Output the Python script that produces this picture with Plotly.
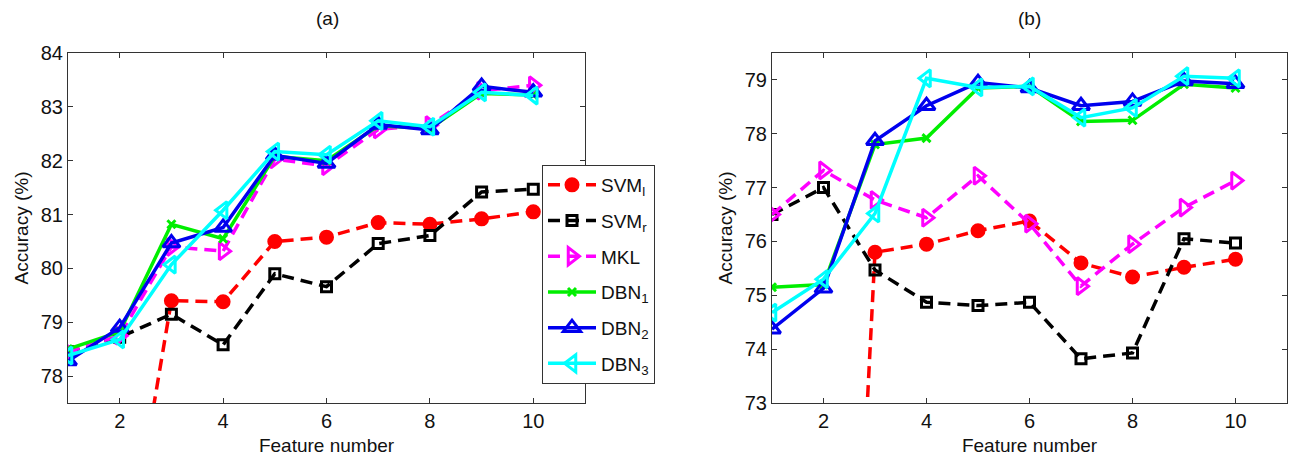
import plotly.graph_objects as go

features = [1, 2, 3, 4, 5, 6, 7, 8, 9, 10]

# Panel (a)
a_svml = [72.5, 73.7, 79.40, 79.38, 80.50, 80.58, 80.85, 80.82, 80.92, 81.05]
a_svmr = [78.45, 78.72, 79.15, 78.58, 79.90, 79.66, 80.46, 80.61, 81.42, 81.47]
a_mkl = [78.45, 78.75, 80.40, 80.32, 82.03, 81.90, 82.58, 82.66, 83.30, 83.40]
a_dbn1 = [78.50, 78.82, 80.82, 80.55, 82.08, 82.00, 82.65, 82.60, 83.25, 83.22]
a_dbn2 = [78.28, 78.90, 80.47, 80.76, 82.10, 81.95, 82.67, 82.57, 83.38, 83.27]
a_dbn3 = [78.38, 78.68, 80.07, 81.08, 82.17, 82.11, 82.74, 82.63, 83.27, 83.21]

# Panel (b)
b_svml = [55.0, 57.0, 75.80, 75.95, 76.20, 76.38, 75.60, 75.34, 75.52, 75.67]
b_svmr = [76.50, 77.00, 75.47, 74.87, 74.81, 74.87, 73.82, 73.93, 76.05, 75.97]
b_mkl = [76.50, 77.32, 76.77, 76.44, 77.22, 76.33, 75.17, 75.95, 76.63, 77.13]
b_dbn1 = [75.15, 75.20, 77.80, 77.92, 78.85, 78.88, 78.23, 78.25, 78.92, 78.85]
b_dbn2 = [74.37, 75.13, 77.87, 78.52, 78.95, 78.85, 78.52, 78.60, 78.98, 78.93]
b_dbn3 = [74.68, 75.30, 76.52, 79.03, 78.86, 78.88, 78.30, 78.48, 79.07, 79.03]

names = ["SVM<sub>l</sub>", "SVM<sub>r</sub>", "MKL",
         "DBN<sub>1</sub>", "DBN<sub>2</sub>", "DBN<sub>3</sub>"]
colors = ["#FF0000", "#000000", "#FF00FF", "#00EE00", "#0000EE", "#00FFFF"]
symbols = ["circle", "square-open", "triangle-right-open", "x-thin-open",
           "triangle-up-open", "triangle-left-open"]
msizes = [12, 10, 15, 8, 15, 15]
dashes = ["12px,7px", "12px,7px", "12px,7px", "solid", "solid", "solid"]

series_a = [a_svml, a_svmr, a_mkl, a_dbn1, a_dbn2, a_dbn3]
series_b = [b_svml, b_svmr, b_mkl, b_dbn1, b_dbn2, b_dbn3]

FONT = "Liberation Sans, Arial"

fig = go.Figure()

for panel, series in (("a", series_a), ("b", series_b)):
    xa = "x" if panel == "a" else "x2"
    ya = "y" if panel == "a" else "y2"
    for i, vals in enumerate(series):
        fig.add_trace(go.Scatter(
            x=features, y=vals, mode="lines+markers",
            name=names[i], showlegend=(panel == "a"),
            legendgroup="g%d" % i,
            xaxis=xa, yaxis=ya,
            line=dict(color=colors[i], width=3.5, dash=dashes[i]),
            marker=dict(symbol=symbols[i], size=msizes[i], color=colors[i],
                        line=dict(color=colors[i], width=3)),
            cliponaxis=True,
        ))

W, H = 1289, 456
axis_common = dict(
    showline=True, linecolor="#333333", linewidth=1, mirror="ticks",
    ticks="inside", ticklen=5, tickcolor="#333333", showgrid=False,
    zeroline=False, automargin=False,
    tickfont=dict(family=FONT, size=20, color="#111"),
)
title_font = dict(family=FONT, size=19, color="#111")

fig.update_layout(
    width=W, height=H,
    margin=dict(l=0, r=0, t=0, b=0, autoexpand=False),
    paper_bgcolor="white", plot_bgcolor="white",
    font=dict(family=FONT, color="#111"),
    xaxis=dict(domain=[68 / W, 585 / W], range=[1, 11], tickvals=[2, 4, 6, 8, 10],
               anchor="y",
               title=dict(text="Feature number", font=title_font, standoff=11),
               **axis_common),
    yaxis=dict(domain=[1 - 403 / H, 1 - 53 / H], range=[77.5, 84], dtick=1,
               anchor="x",
               title=dict(text="Accuracy (%)", font=title_font, standoff=7),
               **axis_common),
    xaxis2=dict(domain=[772 / W, 1287 / W], range=[1, 11], tickvals=[2, 4, 6, 8, 10],
                anchor="y2",
                title=dict(text="Feature number", font=title_font, standoff=11),
                **axis_common),
    yaxis2=dict(domain=[1 - 403 / H, 1 - 53 / H], range=[73, 79.5], dtick=1,
                anchor="x2",
                title=dict(text="Accuracy (%)", font=title_font, standoff=7),
                **axis_common),
    legend=dict(x=542 / W, y=1 - 165 / H, xanchor="left", yanchor="top",
                bgcolor="white", bordercolor="#333333", borderwidth=1,
                font=dict(size=19, family=FONT, color="#111"),
                traceorder="grouped", tracegroupgap=8,
                itemwidth=48),
    annotations=[
        dict(text="(a)", x=327 / W, y=1 - 18 / H, xref="paper", yref="paper",
             xanchor="center", yanchor="middle",
             showarrow=False, font=dict(size=19, family=FONT, color="#111")),
        dict(text="(b)", x=1029 / W, y=1 - 18 / H, xref="paper", yref="paper",
             xanchor="center", yanchor="middle",
             showarrow=False, font=dict(size=19, family=FONT, color="#111")),
    ],
)

fig.write_html("out.html")
